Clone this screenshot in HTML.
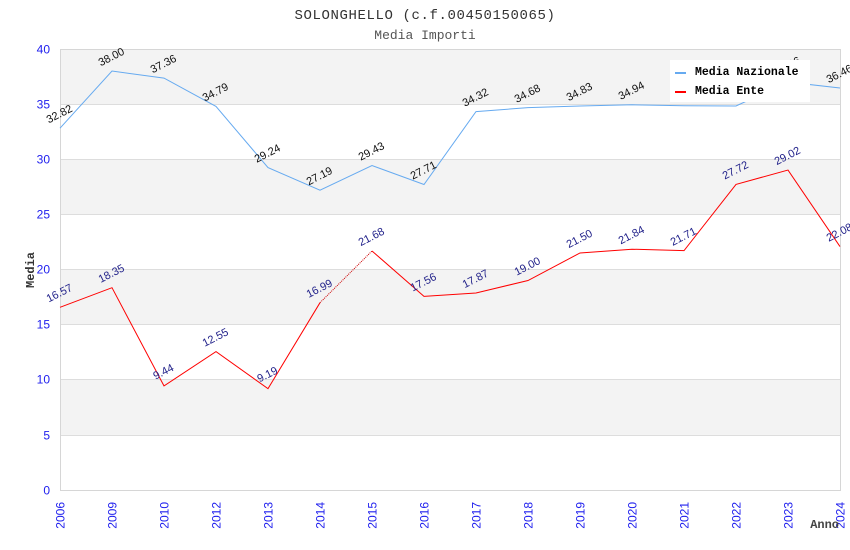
<!DOCTYPE html>
<html><head><meta charset="utf-8"><style>
html,body{margin:0;padding:0;background:#fff;}
svg{display:block;}
</style></head><body>
<svg width="850" height="550" viewBox="0 0 850 550" xmlns="http://www.w3.org/2000/svg">
<rect width="850" height="550" fill="#fff"/>
<!-- bands -->
<g fill="#f3f3f3">
<rect x="60" y="49" width="780" height="55.1"/>
<rect x="60" y="159.25" width="780" height="55.1"/>
<rect x="60" y="269.5" width="780" height="55.1"/>
<rect x="60" y="379.75" width="780" height="55.1"/>
</g>
<g stroke="#dddddd" stroke-width="1">
<line x1="60" y1="104.5" x2="840" y2="104.5"/>
<line x1="60" y1="159.5" x2="840" y2="159.5"/>
<line x1="60" y1="214.5" x2="840" y2="214.5"/>
<line x1="60" y1="269.5" x2="840" y2="269.5"/>
<line x1="60" y1="324.5" x2="840" y2="324.5"/>
<line x1="60" y1="379.5" x2="840" y2="379.5"/>
<line x1="60" y1="435.5" x2="840" y2="435.5"/>
</g>
<rect x="60.5" y="49.5" width="780" height="441" fill="none" stroke="#d6d6d6" stroke-width="1"/>

<!-- title -->
<text x="425" y="19" text-anchor="middle" font-family="Liberation Mono, monospace" font-size="14" letter-spacing="0.6" fill="#333">SOLONGHELLO (c.f.00450150065)</text>
<text x="425" y="39" text-anchor="middle" font-family="Liberation Mono, monospace" font-size="13" fill="#555">Media Importi</text>

<!-- y ticks -->
<g font-family="Liberation Sans, sans-serif" font-size="12" fill="#2020ee" text-anchor="end">
<text x="50" y="53.5">40</text>
<text x="50" y="108.5">35</text>
<text x="50" y="163.5">30</text>
<text x="50" y="218.5">25</text>
<text x="50" y="273.5">20</text>
<text x="50" y="328.5">15</text>
<text x="50" y="383.5">10</text>
<text x="50" y="439.5">5</text>
<text x="50" y="494.5">0</text>
</g>
<text x="0" y="0" transform="translate(34,270) rotate(-90)" text-anchor="middle" font-family="Liberation Mono, monospace" font-weight="bold" font-size="12" fill="#333">Media</text>

<!-- x ticks -->
<g font-family="Liberation Sans, sans-serif" font-size="12" fill="#2020ee" text-anchor="end">
<text transform="translate(64.5,502) rotate(-90)">2006</text>
<text transform="translate(116.5,502) rotate(-90)">2009</text>
<text transform="translate(168.5,502) rotate(-90)">2010</text>
<text transform="translate(220.5,502) rotate(-90)">2012</text>
<text transform="translate(272.5,502) rotate(-90)">2013</text>
<text transform="translate(324.5,502) rotate(-90)">2014</text>
<text transform="translate(376.5,502) rotate(-90)">2015</text>
<text transform="translate(428.5,502) rotate(-90)">2016</text>
<text transform="translate(480.5,502) rotate(-90)">2017</text>
<text transform="translate(532.5,502) rotate(-90)">2018</text>
<text transform="translate(584.5,502) rotate(-90)">2019</text>
<text transform="translate(636.5,502) rotate(-90)">2020</text>
<text transform="translate(688.5,502) rotate(-90)">2021</text>
<text transform="translate(740.5,502) rotate(-90)">2022</text>
<text transform="translate(792.5,502) rotate(-90)">2023</text>
<text transform="translate(844.5,502) rotate(-90)">2024</text>
</g>
<text x="839" y="528" text-anchor="end" font-family="Liberation Mono, monospace" font-weight="bold" font-size="12" fill="#444">Anno</text>

<!-- series -->
<polyline fill="none" stroke="#66aaf0" stroke-width="1" points="60,128.16 112,71.05 164,78.11 216,106.44 268,167.63 320,190.23 372,165.53 424,184.5 476,111.62 528,107.65 580,106 632,104.79 684,105.78 736,106 788,82.07 840,88.03"/>
<polyline fill="none" stroke="#ff0000" stroke-width="1" points="60,307.32 112,287.69 164,385.92 216,351.64 268,388.68 320,302.69"/>
<line x1="320" y1="302.69" x2="372" y2="250.98" stroke="#cc0000" stroke-width="1" stroke-dasharray="1,1"/>
<polyline fill="none" stroke="#ff0000" stroke-width="1" points="372,250.98 424,296.4 476,292.98 528,280.52 580,252.96 632,249.21 684,250.65 736,184.39 788,170.05 840,246.57"/>

<!-- labels nazionale -->
<g font-family="Liberation Sans, sans-serif" font-size="11" fill="#111" text-anchor="middle">
<text transform="translate(61,117.2) rotate(-27)">32.82</text>
<text transform="translate(113,60.1) rotate(-27)">38.00</text>
<text transform="translate(165,67.1) rotate(-27)">37.36</text>
<text transform="translate(217,95.4) rotate(-27)">34.79</text>
<text transform="translate(269,156.6) rotate(-27)">29.24</text>
<text transform="translate(321,179.2) rotate(-27)">27.19</text>
<text transform="translate(373,154.5) rotate(-27)">29.43</text>
<text transform="translate(425,173.5) rotate(-27)">27.71</text>
<text transform="translate(477,100.6) rotate(-27)">34.32</text>
<text transform="translate(529,96.7) rotate(-27)">34.68</text>
<text transform="translate(581,95) rotate(-27)">34.83</text>
<text transform="translate(633,93.8) rotate(-27)">34.94</text>
<text transform="translate(685,94.8) rotate(-27)">34.85</text>
<text transform="translate(737,95) rotate(-27)">34.83</text>
<text transform="translate(789,69.1) rotate(-27)">37.06</text>
<text transform="translate(841,77) rotate(-27)">36.46</text>
</g>
<!-- labels ente -->
<g font-family="Liberation Sans, sans-serif" font-size="11" fill="#22228a" text-anchor="middle">
<text transform="translate(61,296.3) rotate(-27)">16.57</text>
<text transform="translate(113,276.7) rotate(-27)">18.35</text>
<text transform="translate(165,374.9) rotate(-27)">9.44</text>
<text transform="translate(217,340.6) rotate(-27)">12.55</text>
<text transform="translate(269,377.7) rotate(-27)">9.19</text>
<text transform="translate(321,291.7) rotate(-27)">16.99</text>
<text transform="translate(373,240) rotate(-27)">21.68</text>
<text transform="translate(425,285.4) rotate(-27)">17.56</text>
<text transform="translate(477,282) rotate(-27)">17.87</text>
<text transform="translate(529,269.5) rotate(-27)">19.00</text>
<text transform="translate(581,242) rotate(-27)">21.50</text>
<text transform="translate(633,238.2) rotate(-27)">21.84</text>
<text transform="translate(685,239.7) rotate(-27)">21.71</text>
<text transform="translate(737,173.4) rotate(-27)">27.72</text>
<text transform="translate(789,159) rotate(-27)">29.02</text>
<text transform="translate(841,235.6) rotate(-27)">22.08</text>
</g>

<!-- legend -->
<rect x="670" y="60" width="140" height="42" fill="#fff"/>
<line x1="675" y1="73" x2="686" y2="73" stroke="#66aaf0" stroke-width="2"/>
<line x1="675" y1="92" x2="686" y2="92" stroke="#ff0000" stroke-width="2"/>
<g font-family="Liberation Mono, monospace" font-weight="bold" font-size="11.5" fill="#000">
<text x="695" y="75">Media Nazionale</text>
<text x="695" y="94">Media Ente</text>
</g>
</svg>
</body></html>
